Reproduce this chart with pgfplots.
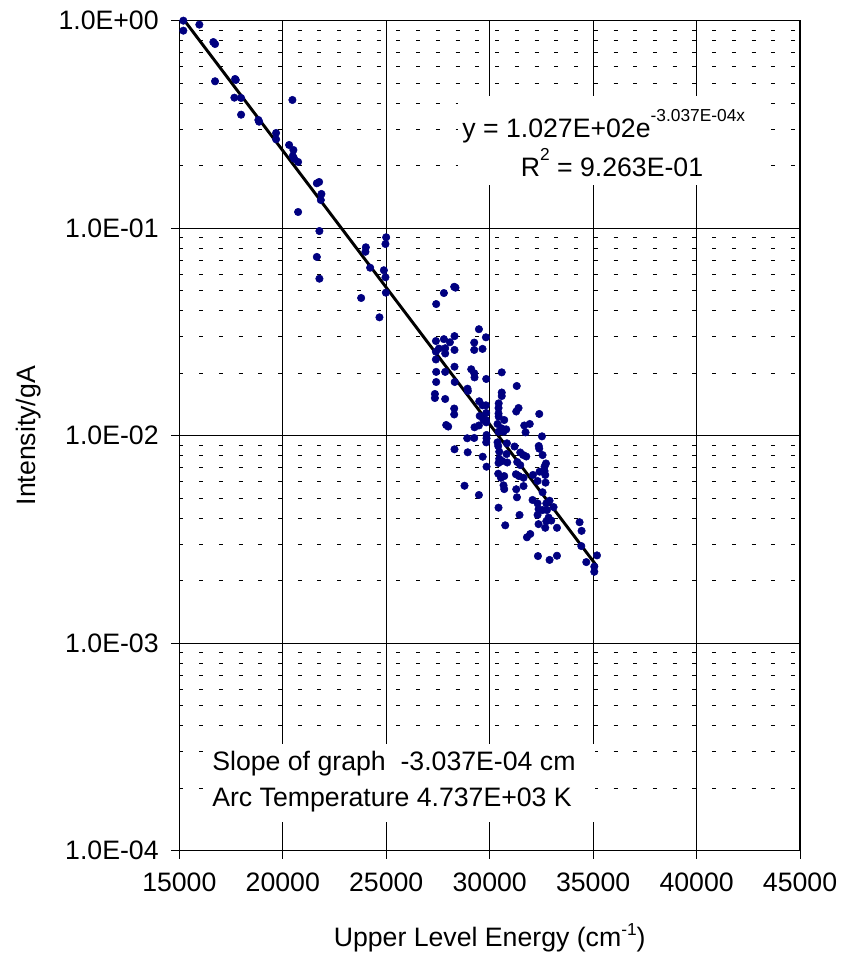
\documentclass[border=0pt]{standalone}
\usepackage{pgfplots}
\pgfplotsset{compat=1.18}
\usepackage{fontspec}
\setmainfont{Liberation Sans}
\definecolor{navy}{RGB}{0,0,128}
\newcommand{\bigf}{\fontsize{20}{24}\selectfont}
\newcommand{\supf}{\fontsize{13}{13}\selectfont}
\pgfplotstableread{
x y
15193 1.00
15193 0.895
15967 0.957
16644 0.789
16726 0.772
16726 0.5105
17694 0.5236
17728 0.5179
17660 0.4255
17984 0.4241
17984 0.3524
18820 0.3322
18854 0.3260
19676 0.2876
19676 0.2682
20465 0.4148
20305 0.2518
20513 0.2381
20484 0.2228
20547 0.2163
20740 0.2085
21645 0.1646
21756 0.1670
21867 0.1462
21838 0.1367
20740 0.1197
21770 0.0969
24996 0.0904
24962 0.0839
24014 0.0809
23995 0.0770
21645 0.0727
21770 0.0571
24222 0.0645
24885 0.0627
24962 0.0580
24982 0.0489
23787 0.0461
24672 0.0372
27786 0.0487
28285 0.0522
28347 0.0517
27414 0.0431
29479 0.0326
28299 0.0302
27786 0.0292
27400 0.0286
28077 0.0282
29818 0.0298
29252 0.0281
27545 0.0263
27849 0.0264
27849 0.0249
28299 0.0259
27400 0.0254
27400 0.0233
29252 0.0259
29653 0.0262
28299 0.0215
27414 0.0203
27849 0.0203
29107 0.0209
29252 0.0200
29266 0.0191
30582 0.0202
27414 0.01815
28309 0.01815
29832 0.01877
31307 0.01736
28928 0.01685
28947 0.01642
27351 0.01589
27351 0.01519
27849 0.01503
30582 0.01615
30582 0.01553
29494 0.01465
29653 0.01401
29818 0.01401
30436 0.01432
30427 0.01360
31394 0.01360
31283 0.01308
32395 0.01273
28285 0.01352
28285 0.01266
29518 0.01245
29832 0.01287
29818 0.01190
29701 0.01190
30436 0.01235
30702 0.01190
30427 0.01279
27898 0.01126
27994 0.01107
29266 0.01098
29479 0.01120
29832 0.01160
30378 0.01139
30572 0.01086
30799 0.01073
30427 0.01045
30669 0.01045
31669 0.01120
31935 0.01139
31733 0.01038
32526 0.00993
28913 0.00972
29252 0.00975
29847 0.01008
29847 0.00972
29832 0.00929
30378 0.00929
30412 0.00892
30833 0.00919
31201 0.00887
28299 0.00860
28937 0.00832
29663 0.00792
30461 0.00837
30814 0.00816
31476 0.00830
31621 0.00807
31767 0.00794
32371 0.00892
32395 0.00866
32555 0.00807
30461 0.00775
30606 0.00755
30848 0.00743
31331 0.00747
31476 0.00722
32719 0.00735
32651 0.00710
29847 0.00709
30427 0.00739
30412 0.00656
30702 0.00639
30543 0.00627
31268 0.00652
31413 0.00639
31636 0.00627
32090 0.00647
32410 0.00671
32651 0.00676
32685 0.00647
32313 0.00605
32700 0.00594
28783 0.00574
30669 0.00577
30702 0.00553
31283 0.00552
31636 0.00572
32555 0.00534
29479 0.00518
31317 0.00505
32071 0.00490
32313 0.00472
32734 0.00472
32893 0.00486
33087 0.00453
32361 0.00443
32555 0.00438
32768 0.00438
30427 0.00450
31442 0.00415
32313 0.00415
32845 0.00403
32975 0.00390
32734 0.00387
32361 0.00375
32685 0.00360
33251 0.00360
30751 0.00370
34344 0.00383
34441 0.00348
31960 0.00336
31800 0.00324
34426 0.00294
32332 0.00263
32893 0.00252
33251 0.00264
34668 0.00246
35185 0.00265
35055 0.00234
35055 0.00221
}\pointdata
\begin{document}
\begin{tikzpicture}
\begin{axis}[
  name=ax,
  scale only axis, width=465.5pt, height=622.5pt,
  xmin=15000, xmax=45000,
  ymode=log, ymin=1e-4, ymax=1,
  scaled x ticks=false,
  xtick={15000,20000,25000,30000,35000,40000,45000},
  xticklabels={15000,20000,25000,30000,35000,40000,45000},
  ytick={1e-4,1e-3,1e-2,1e-1,1},
  yticklabels={1.0E-04,1.0E-03,1.0E-02,1.0E-01,1.0E+00},
  minor ytick={2e-4,3e-4,4e-4,5e-4,6e-4,7e-4,8e-4,9e-4,
               2e-3,3e-3,4e-3,5e-3,6e-3,7e-3,8e-3,9e-3,
               2e-2,3e-2,4e-2,5e-2,6e-2,7e-2,8e-2,9e-2,
               2e-1,3e-1,4e-1,5e-1,6e-1,7e-1,8e-1,9e-1},
  xmajorgrids, ymajorgrids, yminorgrids,
  major grid style={black, line width=0.8pt},
  minor grid style={black, line width=0.8pt, dash pattern=on 3pt off 11.8pt},
  axis line style={black, line width=1.1pt},
  tick align=outside, major tick length=6pt, minor tick length=0pt,
  xtick pos=bottom, ytick pos=left,
  tick style={black, line width=0.8pt},
  tick label style={font=\bigf},
  yticklabel style={xshift=-6pt},
  xticklabel style={yshift=-7pt},
  label style={font=\bigf},
  xlabel={Upper Level Energy (cm\raisebox{8pt}{\supf -1})},
  ylabel={Intensity/gA},
  xlabel style={at={(axis description cs:0.5,-0.1052)}, anchor=center},
  ylabel style={at={(axis description cs:-0.2433,0.5)}, anchor=center},
  clip=false,
]
\addplot[only marks, mark=*, mark size=2.8pt, color=navy, mark options={draw=navy, fill=navy}] table[x=x, y=y] {\pointdata};
\addplot[black, line width=2.2pt] coordinates {(15193,1.018) (35185,0.002349)};
\fill[white] (rel axis cs:0.449,0.802) rectangle (rel axis cs:0.936,0.909);
\node[anchor=base west, font=\bigf, inner sep=0pt] at (rel axis cs:0.4555,0.8595) {y = 1.027E+02e\raisebox{11.5pt}{\supf -3.037E-04x}};
\node[anchor=base, font=\bigf, inner sep=0pt] at (rel axis cs:0.697,0.8128) {R\raisebox{11.5pt}{\supf 2} = 9.263E-01};
\fill[white] (rel axis cs:0.045,0.035) rectangle (rel axis cs:0.67,0.128);
\node[anchor=base west, font=\bigf, inner sep=0pt] at (rel axis cs:0.0527,0.0972) {Slope of graph\ \ -3.037E-04 cm};
\node[anchor=base west, font=\bigf, inner sep=0pt] at (rel axis cs:0.0527,0.0527) {Arc Temperature 4.737E+03 K};
\end{axis}
\pgfresetboundingbox
\path (ax.south west) +(-134.5pt,-79.7pt) (ax.north east) +(30pt,15.5pt);
\end{tikzpicture}
\end{document}
